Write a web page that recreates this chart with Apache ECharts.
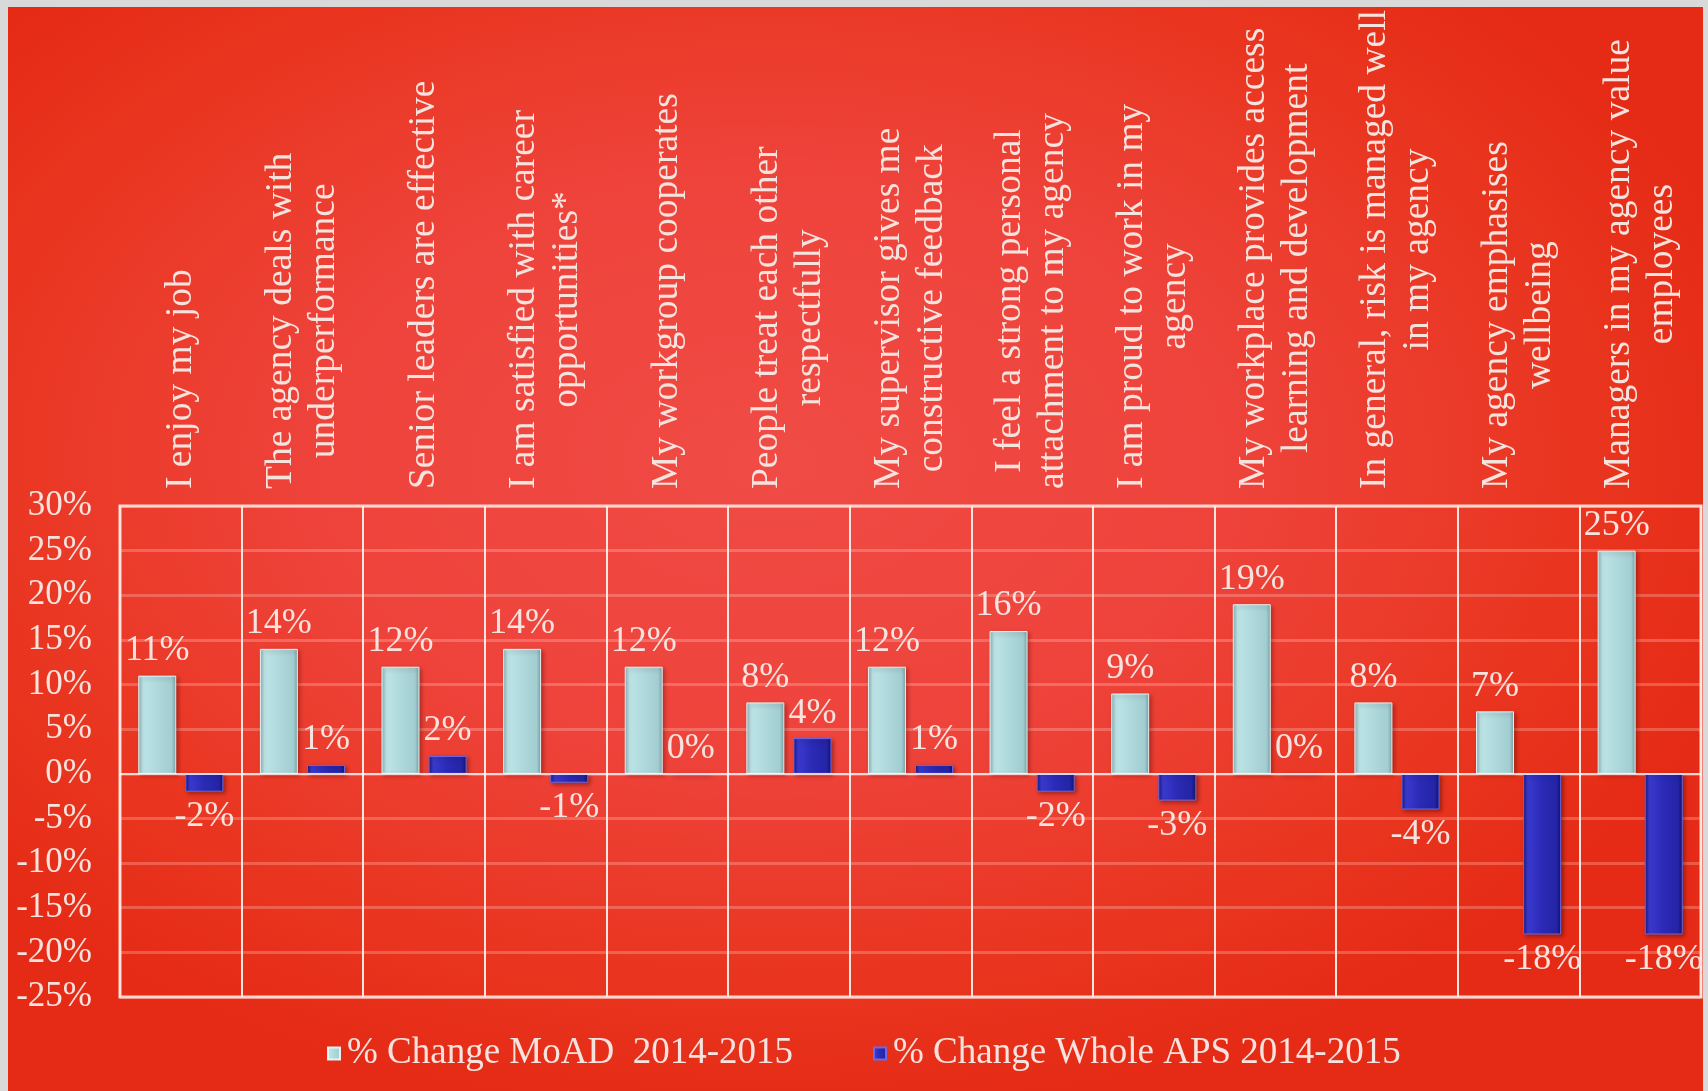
<!DOCTYPE html>
<html>
<head>
<meta charset="utf-8">
<title>% Change MoAD vs Whole APS 2014-2015</title>
<script src="https://cdn.jsdelivr.net/npm/echarts@6/dist/echarts.min.js"></script>
<style>
  html, body { margin: 0; padding: 0; width: 1708px; height: 1091px; overflow: hidden; background: #d9d9d9; }
  #panel {
    position: absolute; left: 8px; top: 7px; width: 1695px; height: 1084px;
    background: radial-gradient(ellipse 60% 60% at 45% 42%, #f04b45 0%, #ee433b 45%, #e9351f 80%, #e52b16 100%);
  }
  #chart { position: absolute; left: 0; top: 0; width: 1708px; height: 1091px; }
</style>
</head>
<body>
<div id="panel"></div>
<div id="chart"></div>
<script>
// Survey statements (line breaks as laid out on the axis)
var categories = [
  'I enjoy my job',
  'The agency deals with\nunderperformance',
  'Senior leaders are effective',
  'I am satisfied with career\nopportunities*',
  'My workgroup cooperates',
  'People treat each other\nrespectfully',
  'My supervisor gives me\nconstructive feedback',
  'I feel a strong personal\nattachment to my agency',
  'I am proud to work in my\nagency',
  'My workplace provides access\nlearning and development',
  'In general, risk is managed well\nin my agency',
  'My agency emphasises\nwellbeing',
  'Managers in my agency value\nemployees'
];

// Percentage change 2014-2015
var moadChange = [11, 14, 12, 14, 12, 8, 12, 16, 9, 19, 8, 7, 25];
var apsChange  = [-2, 1, 2, -1, 0, 4, 1, -2, -3, 0, -4, -18, -18];

var seriesNames = ['% Change MoAD  2014-2015', '% Change Whole APS 2014-2015'];

var FONT = "'Liberation Serif', 'Times New Roman', serif";
var TEXT = '#f7e3de';

function hGrad(stops) {
  return new echarts.graphic.LinearGradient(0, 0, 1, 0, stops.map(function (s) {
    return { offset: s[0], color: s[1] };
  }));
}

var lightFill = hGrad([[0, '#86b3b7'], [0.12, '#bde5e8'], [0.5, '#afd9dc'], [0.88, '#a2cdd1'], [1, '#7aa3a7']]);
var darkFill  = hGrad([[0, '#17177a'], [0.12, '#3a3ad0'], [0.5, '#2a2ab6'], [0.88, '#2424a6'], [1, '#121268']]);

// Labels sit above positive bars and below negative ones
function withLabels(values) {
  return values.map(function (v) {
    return { value: v, label: { position: v < 0 ? 'bottom' : 'top' } };
  });
}

var barLabel = {
  show: true,
  distance: 7,
  formatter: function (p) { return p.value + '%'; },
  color: TEXT,
  fontFamily: FONT,
  fontSize: 36
};

var chart = echarts.init(document.getElementById('chart'));
chart.setOption({
  animation: false,
  grid: {
    left: 120, right: 7, top: 506, bottom: 94,
    show: true, borderColor: '#ffd6cf', borderWidth: 3, backgroundColor: 'transparent'
  },
  legend: {
    left: 322, top: 1030,
    itemWidth: 12, itemHeight: 12, itemGap: 80,
    icon: 'rect',
    textStyle: { color: TEXT, fontFamily: FONT, fontSize: 37, padding: [0, 0, 0, 2] },
    data: seriesNames
  },
  xAxis: {
    type: 'category',
    position: 'top',
    data: categories,
    axisLine: { show: false },
    axisTick: { show: false },
    splitLine: { show: true, interval: 0, lineStyle: { color: '#ffe6e1', width: 2 } },
    axisLabel: {
      interval: 0,
      rotate: 90,
      margin: 17,
      formatter: function (v) {
        return v.split('\n').map(function (l) { return '{c|' + l + '}'; }).join('\n');
      },
      rich: {
        c: { color: TEXT, fontFamily: FONT, fontSize: 37.5, lineHeight: 43, align: 'center' }
      }
    }
  },
  yAxis: {
    type: 'value',
    min: -25, max: 30, interval: 5,
    axisLine: { show: false },
    axisTick: { show: false },
    splitLine: { show: true, lineStyle: { color: 'rgba(255,214,204,0.28)', width: 3 } },
    axisLabel: {
      formatter: '{value}%',
      margin: 28,
      color: TEXT,
      fontFamily: FONT,
      fontSize: 35
    }
  },
  series: [
    {
      name: seriesNames[0],
      type: 'bar',
      barWidth: 38,
      barGap: '24%',
      data: withLabels(moadChange),
      label: barLabel,
      itemStyle: {
        color: lightFill,
        borderColor: 'rgba(230,248,249,0.95)', borderWidth: 1,
        shadowColor: 'rgba(60,0,0,0.35)', shadowBlur: 4, shadowOffsetX: 2, shadowOffsetY: 2
      },
      markLine: {
        silent: true,
        symbol: ['none', 'none'],
        label: { show: false },
        lineStyle: { color: '#ffffff', width: 1.5, type: 'solid' },
        data: [{ yAxis: 0 }]
      },
      z: 3
    },
    {
      name: seriesNames[1],
      type: 'bar',
      barWidth: 38,
      data: withLabels(apsChange),
      label: barLabel,
      itemStyle: {
        color: darkFill,
        borderColor: 'rgba(110,110,240,0.9)', borderWidth: 1,
        shadowColor: 'rgba(40,0,0,0.4)', shadowBlur: 4, shadowOffsetX: 2, shadowOffsetY: 2
      },
      z: 3
    }
  ]
});
</script>
</body>
</html>
